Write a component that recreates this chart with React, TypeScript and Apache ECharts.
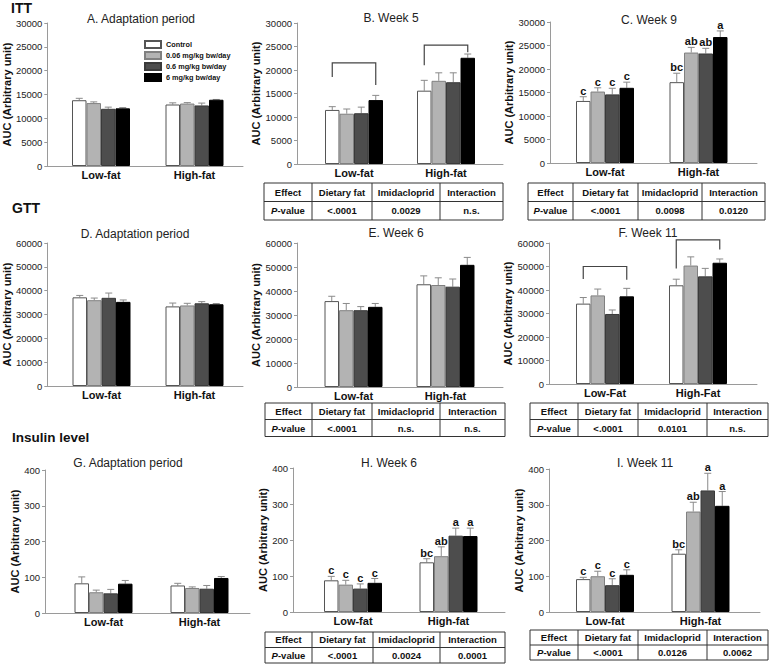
import React, { useEffect, useRef } from 'react';
import * as echarts from 'echarts';

const FONT = '"Liberation Sans", Arial, Helvetica, sans-serif';

// ---------- categories & series names ----------
const catsFat = ['Low-fat', 'High-fat'];
const catsFatF = ['Low-Fat', 'High-Fat'];
const groups = ['Control', '0.06 mg/kg bw/day', '0.6 mg/kg bw/day', '6 mg/kg bw/day'];

// ---------- data: [dose][Low, High] ----------
// ITT
const aMean = [[13800, 12900], [13200, 13100], [12000, 12700], [12100, 13900]];
const aErr = [[400, 350], [250, 200], [350, 500], [150, 60]];
const bMean = [[11500, 15600], [10700, 17700], [10800, 17400], [13600, 22600]];
const bErr = [[700, 2200], [1000, 1700], [1300, 2000], [1000, 800]];
const cMean = [[13200, 17200], [15200, 23500], [14600, 23300], [16000, 26800]];
const cErr = [[900, 1900], [800, 1100], [1300, 1100], [1200, 1300]];
const cLetters = [['c', 'bc'], ['c', 'ab'], ['c', 'ab'], ['c', 'a']];
// GTT
const dMean = [[37200, 33400], [36000, 33800], [37000, 34700], [35300, 34300]];
const dErr = [[800, 1400], [900, 900], [2000, 700], [800, 300]];
const eMean = [[35800, 42800], [32000, 42500], [32000, 41800], [33400, 50900]];
const eErr = [[2000, 3500], [2800, 3000], [1500, 3200], [1400, 3100]];
const fMean = [[34200, 42000], [37700, 50400], [29800, 45800], [37300, 51600]];
const fErr = [[2600, 2600], [2700, 3700], [1700, 3400], [3400, 1600]];
// Insulin
const gMean = [[83, 77], [58, 70], [55, 68], [82, 98]];
const gErr = [[18, 6], [6, 3], [11, 9], [9, 4]];
const hMean = [[88, 138], [76, 155], [65, 212], [81, 211]];
const hErr = [[11, 10], [12, 26], [13, 21], [12, 22]];
const hLetters = [['c', 'bc'], ['c', 'ab'], ['c', 'a'], ['c', 'a']];
const iMean = [[92, 163], [100, 281], [75, 340], [104, 297]];
const iErr = [[5, 11], [14, 26], [18, 48], [14, 40]];
const iLetters = [['c', 'bc'], ['c', 'ab'], ['c', 'a'], ['c', 'a']];

// brackets: [category, top value, left-leg bottom, right-leg bottom]
const bBrackets = [[0, 21500, 18500, 16800], [1, 25300, 21000, 23800]];
const fBrackets = [[0, 50000, 44700, 44400], [1, 61300, 49100, 57200]];

// y-axis ranges
const ittMax = 30000, ittStep = 5000;
const gttMax = 60000, gttStep = 10000;
const insMax = 400, insStep = 100;

// ---------- table texts ----------
const tableHead = ['Effect', 'Dietary fat', 'Imidacloprid', 'Interaction'];
const pB = ['<.0001', '0.0029', 'n.s.'];
const pC = ['<.0001', '0.0098', '0.0120'];
const pE = ['<.0001', 'n.s.', 'n.s.'];
const pF = ['<.0001', '0.0101', 'n.s.'];
const pH = ['<.0001', '0.0024', '0.0001'];
const pI = ['<.0001', '0.0126', '0.0062'];

// ---------- styling ----------
const fills = ['#ffffff', '#b3b3b3', '#4d4d4d', '#000000'];
const borders = ['#555555', '#808080', '#3a3a3a', '#000000'];
const BW = 14.5;
const axisColor = '#9a9a9a';
const errColor = '#8a8a8a';

type Panel = {
  title: string; tx: number; ty: number;
  ax: number; end: number; top: number; bottom: number; c1: number; c2: number;
  max: number; step: number; nameGap: number;
  cats: string[]; mean: number[][]; err: number[][];
  letters?: string[][]; brackets?: number[][];
};

const panels: Panel[] = [
  { title: 'A. Adaptation period', tx: 141, ty: 19, ax: 42, end: 243, top: 23, bottom: 166, c1: 101, c2: 194.5, max: ittMax, step: ittStep, nameGap: 28, cats: catsFat, mean: aMean, err: aErr },
  { title: 'B. Week 5', tx: 391, ty: 18, ax: 297, end: 503, top: 23, bottom: 164, c1: 354, c2: 446, max: ittMax, step: ittStep, nameGap: 31, cats: catsFat, mean: bMean, err: bErr, brackets: bBrackets },
  { title: 'C. Week 9', tx: 649, ty: 20, ax: 550, end: 757, top: 22, bottom: 163, c1: 605, c2: 698.5, max: ittMax, step: ittStep, nameGap: 34, cats: catsFat, mean: cMean, err: cErr, letters: cLetters },
  { title: 'D. Adaptation period', tx: 135, ty: 234, ax: 42, end: 243, top: 243, bottom: 386, c1: 101.5, c2: 194.5, max: gttMax, step: gttStep, nameGap: 28, cats: catsFat, mean: dMean, err: dErr },
  { title: 'E. Week 6', tx: 396, ty: 233, ax: 297, end: 503, top: 243, bottom: 387, c1: 353.5, c2: 445.5, max: gttMax, step: gttStep, nameGap: 33, cats: catsFat, mean: eMean, err: eErr },
  { title: 'F. Week 11', tx: 648, ty: 233, ax: 549, end: 757, top: 243, bottom: 384, c1: 605, c2: 698, max: gttMax, step: gttStep, nameGap: 33, cats: catsFatF, mean: fMean, err: fErr, brackets: fBrackets },
  { title: 'G. Adaptation period', tx: 128, ty: 463, ax: 45, end: 250, top: 470, bottom: 613, c1: 103.5, c2: 199.5, max: insMax, step: insStep, nameGap: 21, cats: catsFat, mean: gMean, err: gErr },
  { title: 'H. Week 6', tx: 389, ty: 463, ax: 293, end: 505, top: 468, bottom: 612, c1: 353, c2: 448.5, max: insMax, step: insStep, nameGap: 19, cats: catsFat, mean: hMean, err: hErr, letters: hLetters },
  { title: 'I. Week 11', tx: 645, ty: 463, ax: 549, end: 760, top: 469, bottom: 612, c1: 605, c2: 700.5, max: insMax, step: insStep, nameGap: 25, cats: catsFat, mean: iMean, err: iErr, letters: iLetters },
];

const tables = [
  { xs: [264, 312, 372, 440, 503], ys: [183, 201.5, 220], vals: pB },
  { xs: [528, 573, 638, 702, 765], ys: [183, 201.5, 220], vals: pC },
  { xs: [265, 312, 372, 440, 505], ys: [403, 419.5, 436.5], vals: pE },
  { xs: [530, 578, 638, 707, 768], ys: [403, 419.5, 436.5], vals: pF },
  { xs: [265, 312, 373, 440, 505], ys: [632, 647.5, 663], vals: pH },
  { xs: [530, 578, 638, 707, 768], ys: [630, 645, 660], vals: pI },
];

function buildTable(t: { xs: number[]; ys: number[]; vals: string[] }) {
  const els: any[] = [];
  const { xs, ys, vals } = t;
  const stroke = '#333';
  els.push({ type: 'rect', shape: { x: xs[0], y: ys[0], width: xs[4] - xs[0], height: ys[2] - ys[0] }, style: { fill: '#fff', stroke, lineWidth: 1 } });
  els.push({ type: 'line', shape: { x1: xs[0], y1: ys[1], x2: xs[4], y2: ys[1] }, style: { stroke, lineWidth: 1 } });
  for (let i = 1; i < 4; i++) {
    els.push({ type: 'line', shape: { x1: xs[i], y1: ys[0], x2: xs[i], y2: ys[2] }, style: { stroke, lineWidth: 1 } });
  }
  for (let i = 0; i < 4; i++) {
    const cx = (xs[i] + xs[i + 1]) / 2;
    els.push({ type: 'text', x: cx, y: (ys[0] + ys[1]) / 2, style: { text: tableHead[i], fill: '#111', fontFamily: FONT, fontSize: 9.5, fontWeight: 'bold', align: 'center', verticalAlign: 'middle' } });
    if (i === 0) {
      els.push({ type: 'text', x: cx, y: (ys[1] + ys[2]) / 2, style: { text: '{i|P}{n|-value}', rich: { i: { fontStyle: 'italic', fontWeight: 'bold', fontSize: 9.5, fontFamily: FONT, fill: '#111' }, n: { fontWeight: 'bold', fontSize: 9.5, fontFamily: FONT, fill: '#111' } }, align: 'center', verticalAlign: 'middle' } });
    } else {
      els.push({ type: 'text', x: cx, y: (ys[1] + ys[2]) / 2, style: { text: vals[i - 1], fill: '#111', fontFamily: FONT, fontSize: 9.5, fontWeight: 'bold', align: 'center', verticalAlign: 'middle' } });
    }
  }
  return els;
}

function buildOption() {
  const grid: any[] = [];
  const xAxis: any[] = [];
  const yAxis: any[] = [];
  const series: any[] = [];
  const graphic: any[] = [];

  panels.forEach((p, pi) => {
    const outer = pi * 2;
    const inner = pi * 2 + 1;
    const h = p.bottom - p.top;
    const L = p.c1 - (p.c2 - p.c1) / 2;
    const W = 2 * (p.c2 - p.c1);
    grid.push({ left: p.ax, top: p.top, width: p.end - p.ax, height: h });
    grid.push({ left: L, top: p.top, width: W, height: h });
    xAxis.push({
      gridIndex: outer, type: 'value', min: 0, max: 1,
      axisLine: { show: true, lineStyle: { color: axisColor, width: 1 } },
      axisTick: { show: false }, axisLabel: { show: false }, splitLine: { show: false },
    });
    xAxis.push({
      gridIndex: inner, type: 'category', data: p.cats,
      axisLine: { show: false }, axisTick: { show: false }, splitLine: { show: false },
      axisLabel: { margin: 3, fontSize: 11, fontWeight: 'bold', color: '#111', fontFamily: FONT },
    });
    yAxis.push({
      gridIndex: outer, type: 'value', min: 0, max: p.max, interval: p.step,
      name: 'AUC (Arbitrary unit)', nameLocation: 'middle', nameGap: p.nameGap,
      nameTextStyle: { fontSize: 11, fontWeight: 'bold', color: '#111', fontFamily: FONT },
      axisLine: { show: true, lineStyle: { color: axisColor, width: 1 } },
      axisTick: { show: true, length: 3, lineStyle: { color: axisColor } },
      axisLabel: { fontSize: 9.5, color: '#222', margin: 5, fontFamily: FONT, formatter: (v: number) => String(v) },
      splitLine: { show: false },
    });
    yAxis.push({ gridIndex: inner, type: 'value', min: 0, max: p.max, show: false, splitLine: { show: false } });

    p.mean.forEach((m, gi) => {
      series.push({
        type: 'bar', name: groups[gi], xAxisIndex: inner, yAxisIndex: inner,
        data: m, barWidth: BW, barGap: '0%',
        itemStyle: { color: fills[gi], borderColor: borders[gi], borderWidth: 1 },
        emphasis: { disabled: true },
      });
    });

    p.mean.forEach((m, gi) => {
      const off = (gi - 1.5) * BW;
      const letters = p.letters;
      series.push({
        type: 'custom', name: `err_${pi}_${gi}`, xAxisIndex: inner, yAxisIndex: inner, clip: false,
        data: m.map((v, ci) => [ci, v, p.err[gi][ci]]),
        renderItem: (params: any, api: any) => {
          const ci = api.value(0);
          const v = api.value(1);
          const e = api.value(2);
          const base = api.coord([ci, v]);
          const top = api.coord([ci, v + e]);
          const x = base[0] + off;
          const children: any[] = [
            { type: 'line', shape: { x1: x, y1: base[1], x2: x, y2: top[1] }, style: { stroke: errColor, lineWidth: 1 } },
            { type: 'line', shape: { x1: x - 3.5, y1: top[1], x2: x + 3.5, y2: top[1] }, style: { stroke: errColor, lineWidth: 1 } },
          ];
          if (letters) {
            children.push({ type: 'text', x, y: top[1] - 0.5, style: { text: letters[gi][params.dataIndex], fill: '#111', fontFamily: FONT, fontSize: 11, fontWeight: 'bold', align: 'center', verticalAlign: 'bottom' } });
          }
          return { type: 'group', children };
        },
      });
    });

    if (p.brackets) {
      series.push({
        type: 'custom', name: `br_${pi}`, xAxisIndex: inner, yAxisIndex: inner, clip: false,
        data: p.brackets,
        renderItem: (params: any, api: any) => {
          const ci = api.value(0);
          const t = api.coord([ci, api.value(1)]);
          const lb = api.coord([ci, api.value(2)]);
          const rb = api.coord([ci, api.value(3)]);
          const xl = t[0] - 1.5 * BW;
          const xr = t[0] + 1.5 * BW;
          return {
            type: 'polyline',
            shape: { points: [[xl, lb[1]], [xl, t[1]], [xr, t[1]], [xr, rb[1]]] },
            style: { stroke: '#444', lineWidth: 1.2, fill: 'none' },
          };
        },
      });
    }

    graphic.push({ type: 'text', x: p.tx, y: p.ty, style: { text: p.title, fill: '#222', fontFamily: FONT, fontSize: 12, align: 'center', verticalAlign: 'middle' } });
  });

  graphic.push({ type: 'text', x: 11, y: 8, style: { text: 'ITT', fill: '#111', fontFamily: FONT, fontSize: 14, fontWeight: 'bold', align: 'left', verticalAlign: 'middle' } });
  graphic.push({ type: 'text', x: 12, y: 208, style: { text: 'GTT', fill: '#111', fontFamily: FONT, fontSize: 14, fontWeight: 'bold', align: 'left', verticalAlign: 'middle' } });
  graphic.push({ type: 'text', x: 12, y: 437, style: { text: 'Insulin level', fill: '#111', fontFamily: FONT, fontSize: 13.5, fontWeight: 'bold', align: 'left', verticalAlign: 'middle' } });

  tables.forEach((t) => graphic.push(...buildTable(t)));

  return {
    animation: false,
    backgroundColor: '#ffffff',
    textStyle: { fontFamily: FONT },
    legend: {
      data: groups, orient: 'vertical', left: 144, top: 40, padding: 0,
      itemWidth: 16, itemHeight: 7, itemGap: 2, selectedMode: false, icon: 'rect',
      textStyle: { fontSize: 7.3, fontWeight: 'bold', color: '#111', fontFamily: FONT, lineHeight: 8 },
    },
    grid, xAxis, yAxis, series, graphic,
  };
}

export default function App() {
  const ref = useRef<HTMLDivElement>(null);
  useEffect(() => {
    if (!ref.current) return;
    const chart = echarts.init(ref.current, undefined, { renderer: 'svg' });
    chart.setOption(buildOption() as any);
    return () => chart.dispose();
  }, []);
  return (
    <div
      ref={ref}
      style={{ position: 'absolute', left: 0, top: 0, width: 771, height: 665, background: '#fff' }}
    />
  );
}
